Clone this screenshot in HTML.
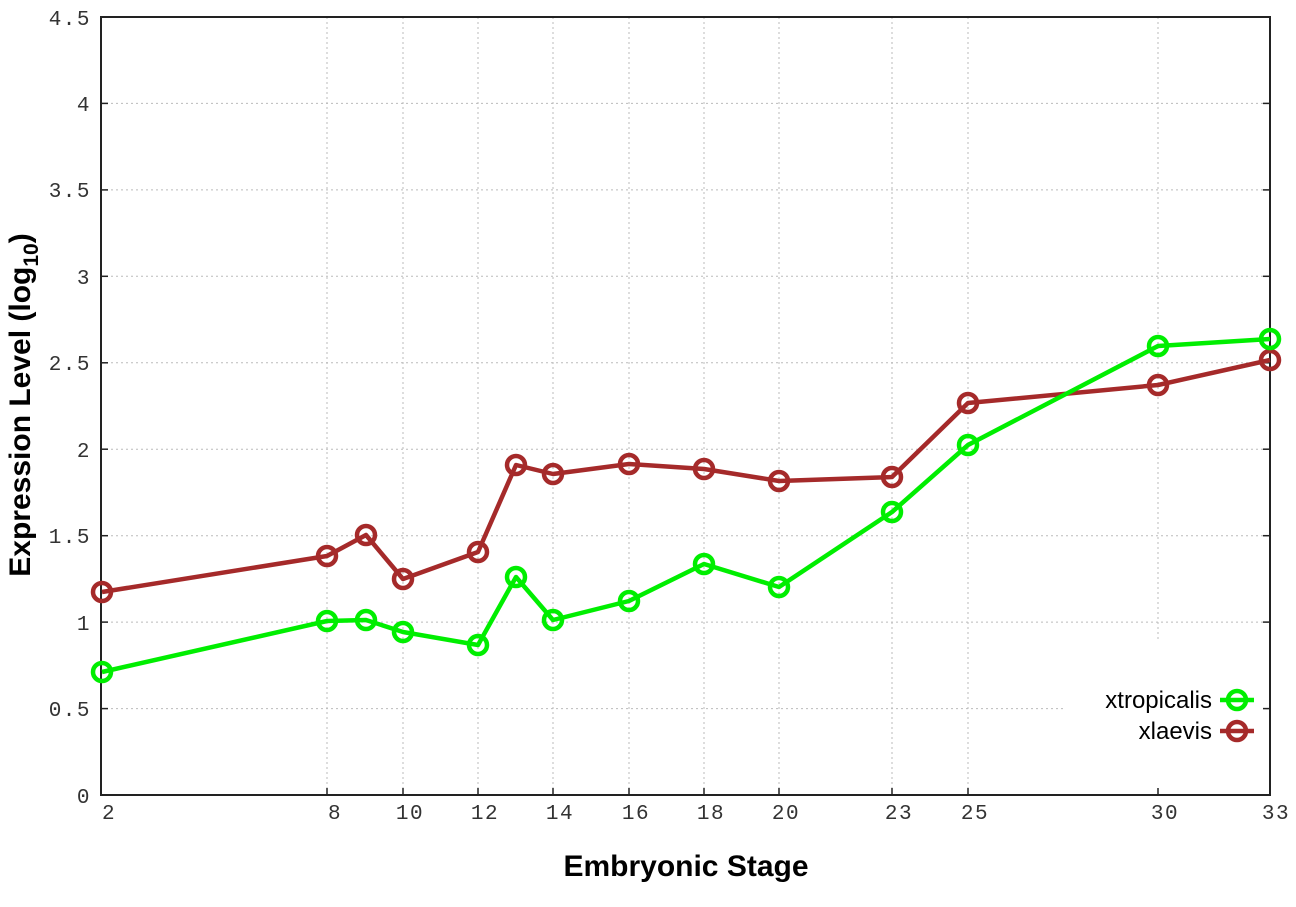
<!DOCTYPE html>
<html><head><style>
html,body{margin:0;padding:0;background:#fff;}
svg{display:block;}
.yl{font-family:"Liberation Mono",monospace;font-size:21px;fill:#333;text-anchor:end;letter-spacing:1.5px;}
.xl{font-family:"Liberation Mono",monospace;font-size:21px;fill:#333;text-anchor:middle;letter-spacing:1.5px;}
.t{font-family:"Liberation Sans",sans-serif;font-weight:bold;font-size:30px;fill:#000;}
.lg{font-family:"Liberation Sans",sans-serif;font-size:24px;fill:#000;text-anchor:end;}
</style></head><body>
<svg width="1296" height="907" viewBox="0 0 1296 907" xmlns="http://www.w3.org/2000/svg">
<g stroke="#bbb" stroke-width="1" stroke-dasharray="2,3">
<line x1="101" y1="708.6" x2="1270" y2="708.6"/>
<line x1="101" y1="622.1" x2="1270" y2="622.1"/>
<line x1="101" y1="535.7" x2="1270" y2="535.7"/>
<line x1="101" y1="449.2" x2="1270" y2="449.2"/>
<line x1="101" y1="362.8" x2="1270" y2="362.8"/>
<line x1="101" y1="276.3" x2="1270" y2="276.3"/>
<line x1="101" y1="189.9" x2="1270" y2="189.9"/>
<line x1="101" y1="103.4" x2="1270" y2="103.4"/>
<line x1="327" y1="17" x2="327" y2="795"/>
<line x1="403" y1="17" x2="403" y2="795"/>
<line x1="478" y1="17" x2="478" y2="795"/>
<line x1="553" y1="17" x2="553" y2="795"/>
<line x1="629" y1="17" x2="629" y2="795"/>
<line x1="704" y1="17" x2="704" y2="795"/>
<line x1="779" y1="17" x2="779" y2="795"/>
<line x1="892" y1="17" x2="892" y2="795"/>
<line x1="968" y1="17" x2="968" y2="795"/>
<line x1="1158" y1="17" x2="1158" y2="640"/>
</g>
<rect x="1065" y="680" width="200" height="70" fill="#fff"/>
<rect x="101" y="17" width="1169" height="778" fill="none" stroke="#222" stroke-width="2"/>
<g stroke="#222" stroke-width="1.5">
<line x1="327" y1="795" x2="327" y2="788"/><line x1="403" y1="795" x2="403" y2="788"/>
<line x1="478" y1="795" x2="478" y2="788"/><line x1="553" y1="795" x2="553" y2="788"/>
<line x1="629" y1="795" x2="629" y2="788"/><line x1="704" y1="795" x2="704" y2="788"/>
<line x1="779" y1="795" x2="779" y2="788"/><line x1="892" y1="795" x2="892" y2="788"/>
<line x1="968" y1="795" x2="968" y2="788"/><line x1="1158" y1="795" x2="1158" y2="788"/>
<line x1="101" y1="708.6" x2="108" y2="708.6"/><line x1="101" y1="622.1" x2="108" y2="622.1"/>
<line x1="101" y1="535.7" x2="108" y2="535.7"/><line x1="101" y1="449.2" x2="108" y2="449.2"/>
<line x1="101" y1="362.8" x2="108" y2="362.8"/><line x1="101" y1="276.3" x2="108" y2="276.3"/>
<line x1="101" y1="189.9" x2="108" y2="189.9"/><line x1="101" y1="103.4" x2="108" y2="103.4"/>
<line x1="1270" y1="708.6" x2="1263" y2="708.6"/><line x1="1270" y1="622.1" x2="1263" y2="622.1"/>
<line x1="1270" y1="535.7" x2="1263" y2="535.7"/><line x1="1270" y1="449.2" x2="1263" y2="449.2"/>
<line x1="1270" y1="362.8" x2="1263" y2="362.8"/><line x1="1270" y1="276.3" x2="1263" y2="276.3"/>
<line x1="1270" y1="189.9" x2="1263" y2="189.9"/><line x1="1270" y1="103.4" x2="1263" y2="103.4"/>
</g>
<g class="yl">
<text x="91" y="803">0</text><text x="91" y="716">0.5</text><text x="91" y="630">1</text>
<text x="91" y="543">1.5</text><text x="91" y="457">2</text><text x="91" y="370">2.5</text>
<text x="91" y="284">3</text><text x="91" y="197">3.5</text><text x="91" y="111">4</text>
<text x="91" y="25">4.5</text>
</g>
<g class="xl">
<text x="109" y="819">2</text><text x="335" y="819">8</text><text x="410" y="819">10</text>
<text x="485" y="819">12</text><text x="560" y="819">14</text><text x="636" y="819">16</text>
<text x="711" y="819">18</text><text x="786" y="819">20</text><text x="899" y="819">23</text>
<text x="975" y="819">25</text><text x="1165" y="819">30</text><text x="1276" y="819">33</text>
</g>
<text class="t" x="686" y="876" text-anchor="middle">Embryonic Stage</text>
<text class="t" transform="translate(30,405) rotate(-90)" text-anchor="middle">Expression Level (log<tspan font-size="21" dy="8">10</tspan><tspan dy="-8">)</tspan></text>
<g fill="none" stroke="#a52a2a" stroke-width="4.5" stroke-linejoin="round">
<polyline points="102,592 327,556 366,535 403,579 478,552 516,465 553,474 629,464 704,469 779,481 892,477 968,403 1158,385 1270,360"/>
<circle cx="102" cy="592" r="9"/><circle cx="327" cy="556" r="9"/><circle cx="366" cy="535" r="9"/>
<circle cx="403" cy="579" r="9"/><circle cx="478" cy="552" r="9"/><circle cx="516" cy="465" r="9"/>
<circle cx="553" cy="474" r="9"/><circle cx="629" cy="464" r="9"/><circle cx="704" cy="469" r="9"/>
<circle cx="779" cy="481" r="9"/><circle cx="892" cy="477" r="9"/><circle cx="968" cy="403" r="9"/>
<circle cx="1158" cy="385" r="9"/><circle cx="1270" cy="360" r="9"/>
<line x1="1220" y1="731" x2="1254" y2="731"/><circle cx="1237" cy="731" r="9"/>
</g>
<g fill="none" stroke="#00ee00" stroke-width="4.5" stroke-linejoin="round">
<polyline points="102,672 327,621 366,620 403,632 478,645 516,577 553,620 629,601 704,564 779,587 892,512 968,445 1158,346 1270,339"/>
<circle cx="102" cy="672" r="9"/><circle cx="327" cy="621" r="9"/><circle cx="366" cy="620" r="9"/>
<circle cx="403" cy="632" r="9"/><circle cx="478" cy="645" r="9"/><circle cx="516" cy="577" r="9"/>
<circle cx="553" cy="620" r="9"/><circle cx="629" cy="601" r="9"/><circle cx="704" cy="564" r="9"/>
<circle cx="779" cy="587" r="9"/><circle cx="892" cy="512" r="9"/><circle cx="968" cy="445" r="9"/>
<circle cx="1158" cy="346" r="9"/><circle cx="1270" cy="339" r="9"/>
<line x1="1220" y1="700" x2="1254" y2="700"/><circle cx="1237" cy="700" r="9"/>
</g>
<text class="lg" x="1212" y="708">xtropicalis</text>
<text class="lg" x="1212" y="739">xlaevis</text>
</svg>
</body></html>
